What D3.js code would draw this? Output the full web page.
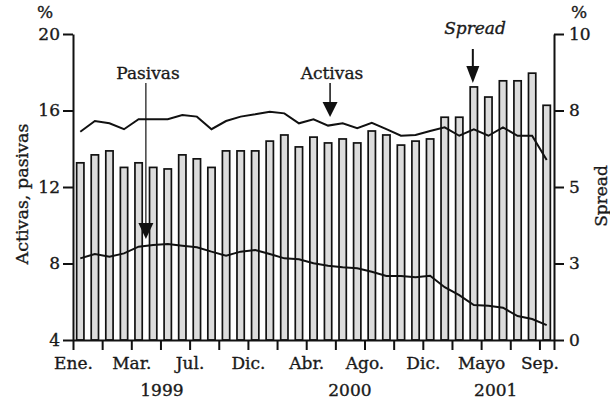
<!DOCTYPE html>
<html>
<head>
<meta charset="utf-8">
<script src="https://cdn.jsdelivr.net/npm/d3@7"></script>
<style>
  body { margin: 0; background: #fff; }
  text { font-family: "DejaVu Serif", serif; fill: #1a1a1a; stroke: #1a1a1a; stroke-width: 0.35px; }
</style>
</head>
<body>
<div id="app"></div>
<script>
const width = 610,
    height = 402;

// months Jan 1999 .. Sep 2001
const months = d3.range(33);

// spread (right axis, %)
const spread = [5.79, 6.05, 6.18, 5.64, 5.79, 5.64, 5.59, 6.05, 5.92, 5.64, 6.18, 6.18,
    6.18, 6.50, 6.70, 6.31, 6.63, 6.44, 6.57, 6.44, 6.83, 6.70, 6.37, 6.50,
    6.57, 7.28, 7.28, 8.27, 7.94, 8.47, 8.47, 8.72, 7.67];

// activas (left axis, %)
const activas = [14.89, 15.45, 15.33, 15.02, 15.54, 15.54, 15.54, 15.76, 15.68, 15.02, 15.45, 15.68,
    15.80, 15.94, 15.85, 15.33, 15.54, 15.21, 15.33, 15.07, 15.36, 15.03, 14.68, 14.72,
    14.93, 15.12, 14.68, 15.02, 14.68, 15.12, 14.68, 14.68, 13.41];

// pasivas (left axis, %)
const pasivas = [8.27, 8.50, 8.36, 8.53, 8.88, 8.97, 9.02, 8.93, 8.85, 8.62, 8.41, 8.62,
    8.71, 8.50, 8.27, 8.22, 8.01, 7.88, 7.80, 7.75, 7.57, 7.35, 7.35, 7.28,
    7.36, 6.76, 6.35, 5.83, 5.79, 5.69, 5.25, 5.10, 4.78];

const monthLabels = ["Ene.", "Mar.", "Jul.", "Dic.", "Abr.", "Ago.", "Dic.", "Mayo", "Sep."];
const years = ["1999", "2000", "2001"];
const yearPos = [6.1, 19, 29];

const leftTicks = [4, 8, 12, 16, 20];
const rightTicks = [0, 2.5, 5, 7.5, 10];
const rightLabels = ["0", "3", "5", "8", "10"];

const x0 = 73, x1 = 554, yTop = 34, yBot = 340;

var xb = d3.scaleBand().domain(months).range([x0, x1]).paddingInner(0.5).paddingOuter(0.25);
var xl = d3.scaleLinear().domain([0, months.length]).range([x0, x1]);
var yL = d3.scaleLinear().domain([4, 20]).range([yBot, yTop]);
var yR = d3.scaleLinear().domain([0, 10]).range([yBot, yTop]);

const svg = d3.select("#app")
    .append("svg")
    .attr("width", width)
    .attr("height", height);

svg.append("rect").attr("width", width).attr("height", height).attr("fill", "#fff");

//Bars (spread)
svg.append("g").selectAll("rect")
    .data(spread).enter()
    .append("rect")
    .attr("x", (d, i) => xb(i))
    .attr("y", d => yR(d))
    .attr("width", xb.bandwidth())
    .attr("height", d => yBot - yR(d))
    .attr("fill", "#dcdcdc")
    .attr("stroke", "#111")
    .attr("stroke-width", 1.7);

//Lines
const mid = i => xb(i) + xb.bandwidth() / 2;
[activas, pasivas].forEach(series => {
    svg.append("path")
        .datum(series)
        .attr("fill", "none")
        .attr("stroke", "#111")
        .attr("stroke-width", 2)
        .attr("d", d3.line().x((d, i) => mid(i)).y(d => yL(d)));
});

//Axes
const axisStyle = g => {
    g.select(".domain").attr("stroke", "#111").attr("stroke-width", 2);
    g.selectAll(".tick line").attr("stroke", "#111").attr("stroke-width", 2);
    g.selectAll("text").attr("font-family", "DejaVu Serif").attr("font-size", 17).attr("fill", "#1a1a1a");
};

const xTicks = d3.range(0, 33, 2).concat([33]);
svg.append("g")
    .attr("transform", "translate(0," + yBot + ")")
    .call(d3.axisBottom(xl).tickValues(xTicks).tickSize(10).tickSizeOuter(0).tickPadding(7)
        .tickFormat(d => (d % 4 === 0 && d < 33) ? monthLabels[d / 4] : ""))
    .call(axisStyle);

svg.append("g")
    .attr("transform", "translate(" + x0 + ",0)")
    .call(d3.axisLeft(yL).tickValues(leftTicks).tickSize(10).tickSizeOuter(0).tickPadding(3))
    .call(axisStyle);

svg.append("g")
    .attr("transform", "translate(" + x1 + ",0)")
    .call(d3.axisRight(yR).tickValues(rightTicks).tickSize(10).tickSizeOuter(0).tickPadding(5)
        .tickFormat((d, i) => rightLabels[i]))
    .call(axisStyle);

//Years
svg.append("g").selectAll("text")
    .data(years).enter()
    .append("text")
    .attr("x", (d, i) => xl(yearPos[i]))
    .attr("y", 396)
    .attr("text-anchor", "middle")
    .attr("font-size", 17)
    .text(d => d);

//Units and axis titles
svg.append("text").attr("x", 45).attr("y", 18).attr("text-anchor", "middle").attr("font-size", 17).text("%");
svg.append("text").attr("x", 579).attr("y", 18).attr("text-anchor", "middle").attr("font-size", 17).text("%");
svg.append("text")
    .attr("transform", "translate(28,194) rotate(-90)")
    .attr("text-anchor", "middle").attr("font-size", 17.5)
    .text("Activas, pasivas");
svg.append("text")
    .attr("transform", "translate(607,196) rotate(-90)")
    .attr("text-anchor", "middle").attr("font-size", 17)
    .text("Spread");

//Annotations with arrows
function arrow(x, yStart, yTip, head, w, sw) {
    svg.append("line")
        .attr("x1", x).attr("x2", x)
        .attr("y1", yStart).attr("y2", yTip - head + 1)
        .attr("stroke", "#111").attr("stroke-width", sw);
    svg.append("path")
        .attr("d", `M${x - w / 2},${yTip - head}L${x + w / 2},${yTip - head}L${x},${yTip}Z`)
        .attr("fill", "#111");
}

svg.append("text").attr("x", 148).attr("y", 79).attr("text-anchor", "middle").attr("font-size", 17).text("Pasivas");
arrow(xl(5), 83, yL(9.28), 16, 15, 1.2);

svg.append("text").attr("x", 332).attr("y", 79).attr("text-anchor", "middle").attr("font-size", 17).text("Activas");
arrow(mid(17) + 2, 83, yL(15.66), 15, 15, 1.5);

svg.append("text").attr("x", 475).attr("y", 34).attr("text-anchor", "middle").attr("font-size", 17)
    .attr("font-style", "italic").text("Spread");
arrow(mid(27) - 1, 49, yR(8.4), 17, 13, 2);
</script>
</body>
</html>
